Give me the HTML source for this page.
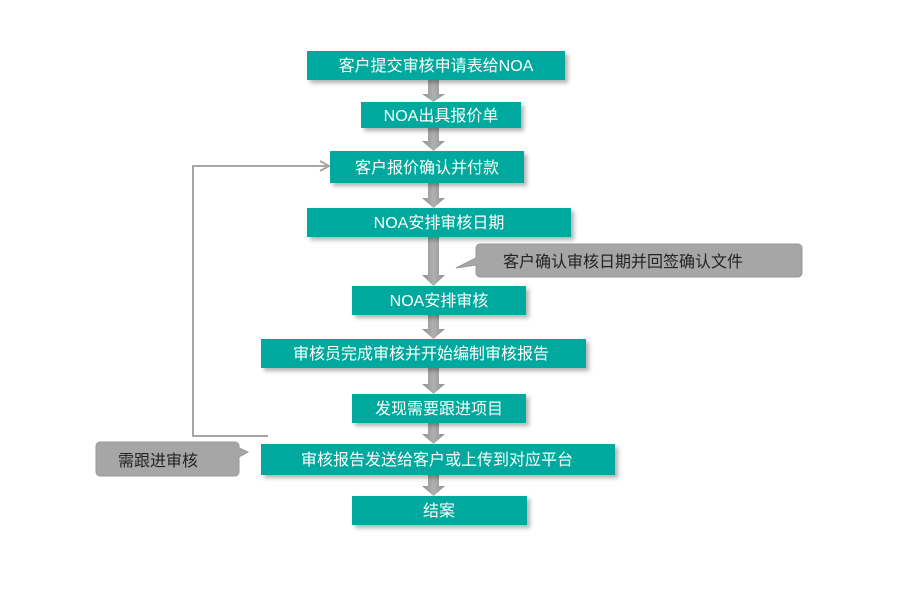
<!DOCTYPE html>
<html><head><meta charset="utf-8"><style>
body{margin:0;background:#fff;width:900px;height:600px;overflow:hidden}
svg text{font-family:"Liberation Sans","Noto Sans CJK SC",sans-serif;font-size:16px}
</style></head><body>
<svg width="900" height="600" xmlns="http://www.w3.org/2000/svg">
<defs>
<filter id="sh" x="-10%" y="-30%" width="130%" height="180%"><feDropShadow dx="3" dy="3" stdDeviation="2" flood-color="#000" flood-opacity="0.3"/></filter>
<linearGradient id="ag" x1="0" x2="1"><stop offset="0" stop-color="#8f8f8f"/><stop offset="0.5" stop-color="#b0b0b0"/><stop offset="1" stop-color="#8f8f8f"/></linearGradient>
</defs>
<g fill="url(#ag)">
<path d="M428 80h11v14h6l-11.5 8l-11.5-8h6z"/>
<path d="M428 128h11v13h6l-11.5 10l-11.5-10h6z"/>
<path d="M428 183h11v15h6l-11.5 10l-11.5-10h6z"/>
<path d="M428 237h11v38h6l-11.5 11l-11.5-11h6z"/>
<path d="M428 315h11v14h6l-11.5 10l-11.5-10h6z"/>
<path d="M428 368h11v16h6l-11.5 10l-11.5-10h6z"/>
<path d="M428 423h11v11h6l-11.5 10l-11.5-10h6z"/>
<path d="M428 475h11v11h6l-11.5 10l-11.5-10h6z"/>
</g>
<polyline points="268,436 193,436 193,166 328,166" fill="none" stroke="#a6a6a6" stroke-width="2"/>
<polyline points="320,161 329,166 320,171" fill="none" stroke="#a6a6a6" stroke-width="2"/>
<g fill="#00a99d" filter="url(#sh)">
<rect x="307" y="51" width="258" height="29"/>
<rect x="361" y="102" width="160" height="26"/>
<rect x="330" y="151" width="194" height="32"/>
<rect x="307" y="208" width="264" height="29"/>
<rect x="352" y="286" width="174" height="29"/>
<rect x="261" y="339" width="325" height="29"/>
<rect x="352" y="394" width="174" height="29"/>
<rect x="261" y="444" width="354" height="31"/>
<rect x="352" y="496" width="175" height="29"/>
</g>
<g fill="#fff" text-anchor="middle">
<text x="436" y="71">客户提交审核申请表给NOA</text>
<text x="441" y="121">NOA出具报价单</text>
<text x="427" y="173">客户报价确认并付款</text>
<text x="439" y="228">NOA安排审核日期</text>
<text x="439" y="306">NOA安排审核</text>
<text x="421" y="359">审核员完成审核并开始编制审核报告</text>
<text x="437" y="465">审核报告发送给客户或上传到对应平台</text>
<text x="439" y="414">发现需要跟进项目</text>
<text x="439" y="516">结案</text>
</g>
<g fill="#a6a6a6" stroke="#999" stroke-width="1">
<path d="M480 244h318a4 4 0 0 1 4 4v25a4 4 0 0 1-4 4h-318a4 4 0 0 1-4-4v-8l-20 3l20-10v-10a4 4 0 0 1 4-4z"/>
<path d="M100 442h135a4 4 0 0 1 4 4v2l9 4l-9 5v15a4 4 0 0 1-4 4h-135a4 4 0 0 1-4-4v-26a4 4 0 0 1 4-4z"/>
</g>
<g fill="#222">
<text x="503" y="267">客户确认审核日期并回签确认文件</text>
<text x="118" y="466">需跟进审核</text>
</g>
</svg>
</body></html>
